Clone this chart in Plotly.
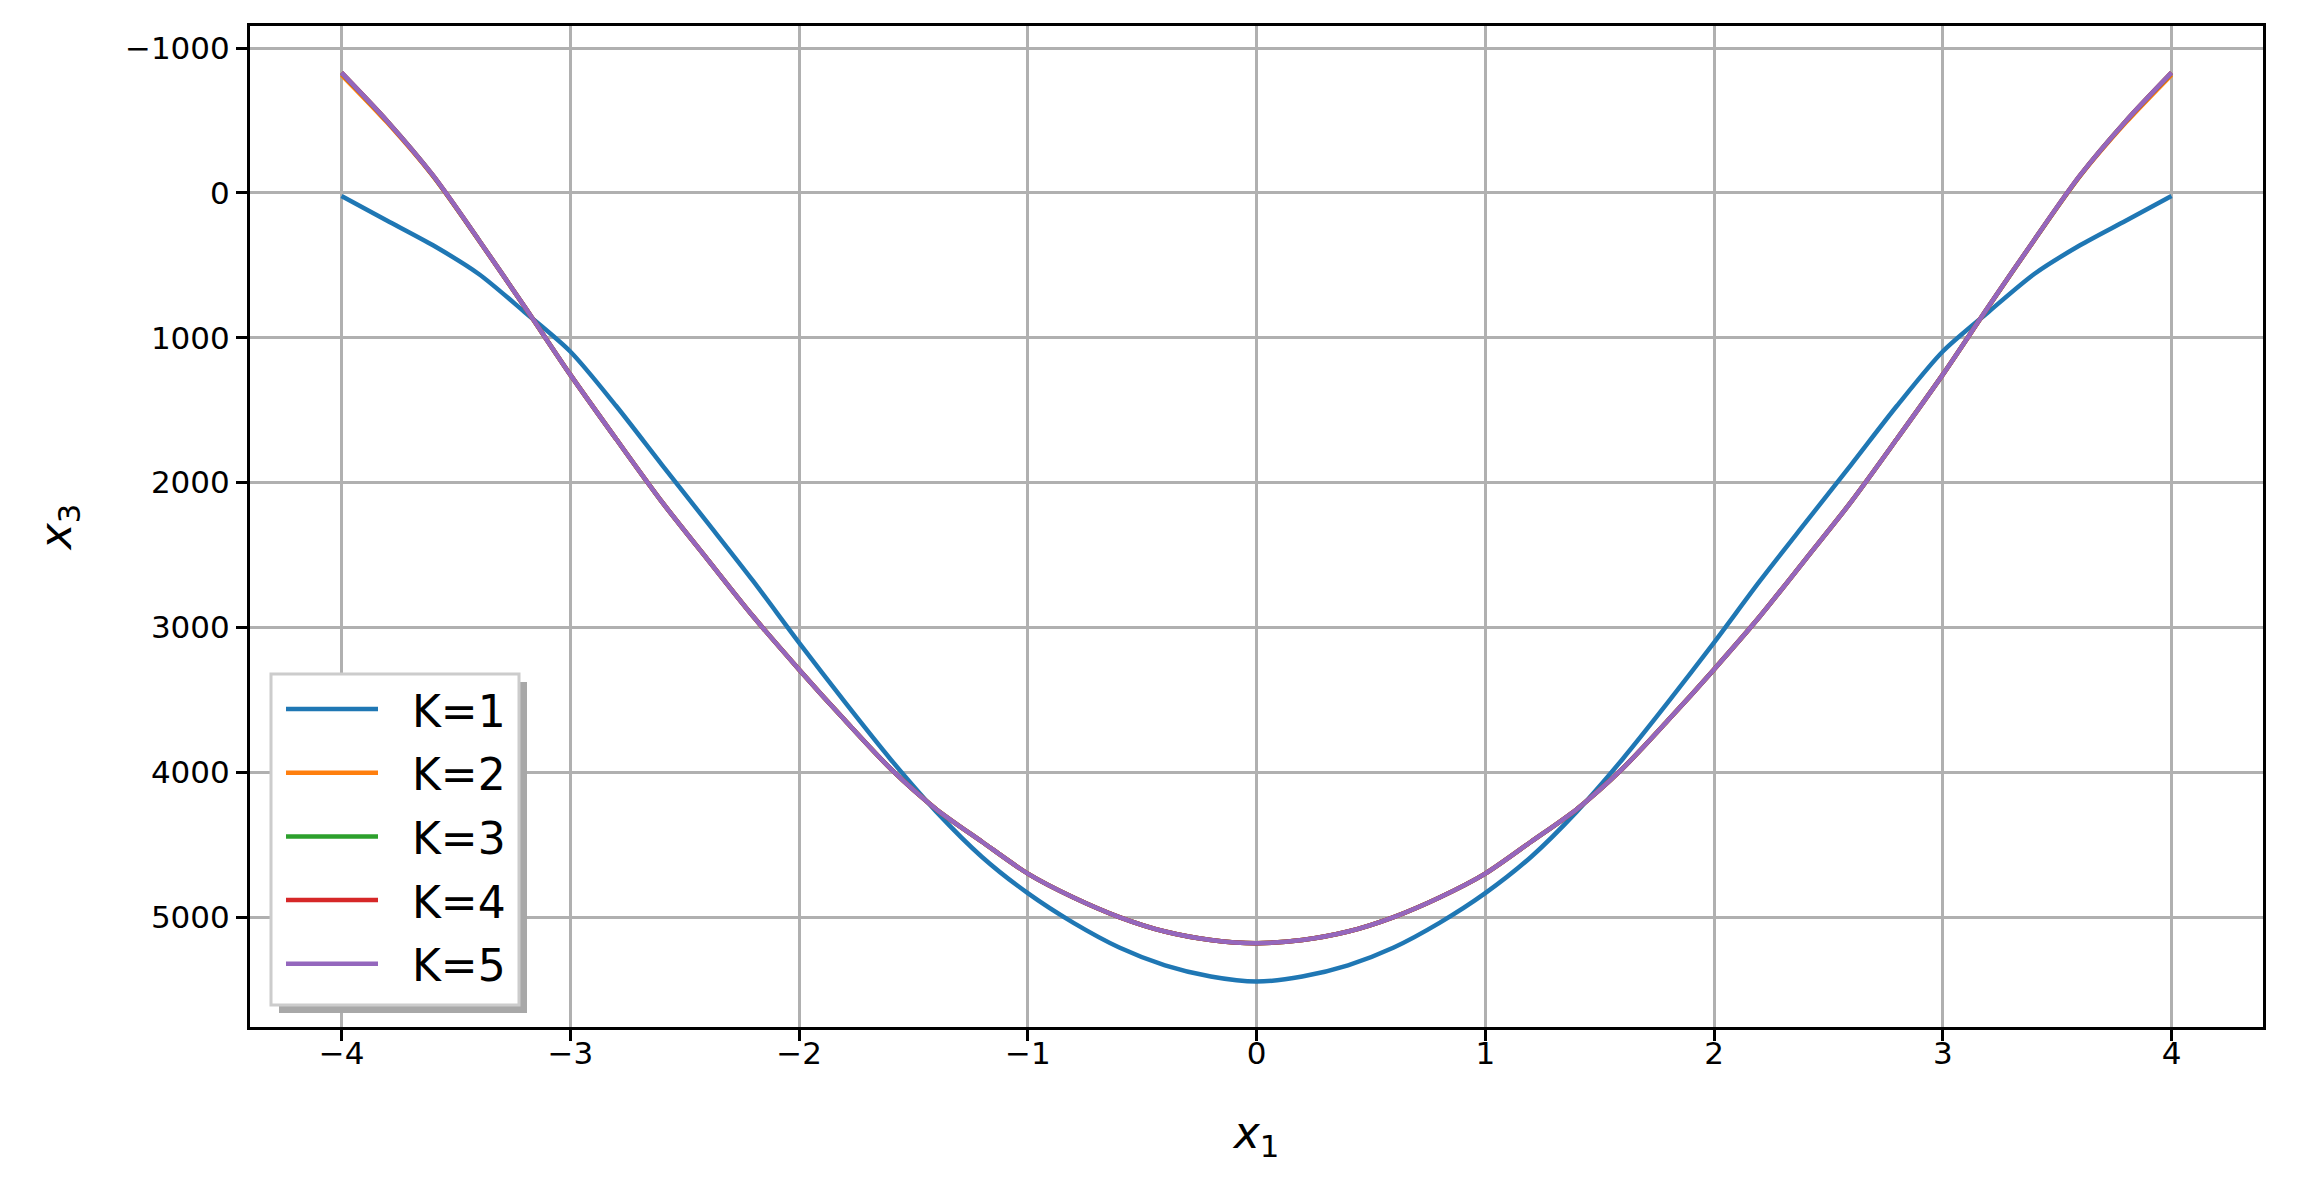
import plotly.graph_objects as go

# x1 sample positions
x1 = [-4.0, -3.8, -3.6, -3.4, -3.2, -3.0, -2.8, -2.6, -2.4, -2.2, -2.0,
      -1.8, -1.6, -1.4, -1.2, -1.0, -0.8, -0.6, -0.4, -0.2, 0.0,
      0.2, 0.4, 0.6, 0.8, 1.0, 1.2, 1.4, 1.6, 1.8, 2.0,
      2.2, 2.4, 2.6, 2.8, 3.0, 3.2, 3.4, 3.6, 3.8, 4.0]

k1 = [22, 192, 362, 560, 822, 1095, 1470, 1876, 2277, 2681, 3105,
      3515, 3910, 4272, 4585, 4835, 5040, 5210, 5333, 5410, 5445,
      5410, 5333, 5210, 5040, 4835, 4585, 4272, 3910, 3515, 3105,
      2681, 2277, 1876, 1470, 1095, 822, 560, 362, 192, 22]

k2 = [-815, -485, -115, 327, 786, 1255, 1698, 2132, 2530, 2925, 3290,
      3640, 3975, 4255, 4480, 4700, 4865, 5000, 5100, 5158, 5180,
      5158, 5100, 5000, 4865, 4700, 4480, 4255, 3975, 3640, 3290,
      2925, 2530, 2132, 1698, 1255, 786, 327, -115, -485, -815]

k3 = [-828, -494, -119, 325, 785, 1255, 1698, 2132, 2530, 2925, 3290,
      3640, 3975, 4255, 4480, 4700, 4865, 5000, 5100, 5158, 5180,
      5158, 5100, 5000, 4865, 4700, 4480, 4255, 3975, 3640, 3290,
      2925, 2530, 2132, 1698, 1255, 785, 325, -119, -494, -828]

k4 = [-830, -495, -120, 325, 785, 1255, 1698, 2132, 2530, 2925, 3290,
      3640, 3975, 4255, 4480, 4700, 4865, 5000, 5100, 5158, 5180,
      5158, 5100, 5000, 4865, 4700, 4480, 4255, 3975, 3640, 3290,
      2925, 2530, 2132, 1698, 1255, 785, 325, -120, -495, -830]

k5 = [-830, -495, -120, 325, 785, 1255, 1698, 2132, 2530, 2925, 3290,
      3640, 3975, 4255, 4480, 4700, 4865, 5000, 5100, 5158, 5180,
      5158, 5100, 5000, 4865, 4700, 4480, 4255, 3975, 3640, 3290,
      2925, 2530, 2132, 1698, 1255, 785, 325, -120, -495, -830]

names = ["K=1", "K=2", "K=3", "K=4", "K=5"]
series = [k1, k2, k3, k4, k5]
colors = ["#1f77b4", "#ff7f0e", "#2ca02c", "#d62728", "#9467bd"]

# plot area in page pixels (page body has an 8px margin)
W, H = 2299, 1180
PL, PR, PT, PB = 250, 2263, 26, 1027


def px(x):
    return (x - PL) / (PR - PL)


def py(y):
    return (PB - y) / (PB - PT)


fig = go.Figure()
for name, ys, c in zip(names, series, colors):
    fig.add_trace(go.Scatter(x=x1, y=ys, name=name, mode="lines",
                             showlegend=False,
                             line=dict(color=c, width=4.5, shape="spline",
                                       smoothing=0.8)))

axis_style = dict(showline=True, linecolor="black", linewidth=3, mirror=True,
                  ticks="outside", ticklen=11, tickwidth=3, tickcolor="black",
                  showgrid=True, gridcolor="#b0b0b0", gridwidth=2.6,
                  zeroline=False, tickfont=dict(size=31, color="black"))

fig.update_xaxes(range=[-4.4, 4.4], tickmode="linear", tick0=-4, dtick=1,
                 ticklabelstandoff=-14,
                 title=dict(text="<i>x</i><sub>1</sub>",
                            font=dict(size=44, color="black"), standoff=47),
                 **axis_style)
fig.update_yaxes(range=[5759, -1152], tickmode="linear", tick0=-1000,
                 dtick=1000,
                 title=dict(text="<i>x</i><sub>3</sub>",
                            font=dict(size=44, color="black"), standoff=40),
                 **axis_style)

# legend box drawn by hand (matplotlib style: shadow, long line samples)
shapes = [
    dict(type="rect", xref="paper", yref="paper", layer="above",
         x0=px(279), x1=px(527), y0=py(1013), y1=py(682),
         fillcolor="#a8a8a8", line=dict(width=0)),
    dict(type="rect", xref="paper", yref="paper", layer="above",
         x0=px(271), x1=px(519), y0=py(1005), y1=py(674),
         fillcolor="white", line=dict(color="#cccccc", width=3)),
]
annotations = []
row0, row_gap = 709, 63.7
for i, (name, c) in enumerate(zip(names, colors)):
    yrow = row0 + i * row_gap
    shapes.append(dict(type="line", xref="paper", yref="paper", layer="above",
                       x0=px(286), x1=px(378), y0=py(yrow), y1=py(yrow),
                       line=dict(color=c, width=4.5)))
    annotations.append(dict(text=name, xref="paper", yref="paper",
                            x=px(410), y=py(yrow + 2), xanchor="left",
                            yanchor="middle", showarrow=False,
                            font=dict(size=44, color="black")))

fig.update_layout(
    width=W, height=H,
    margin=dict(l=PL - 8, r=W - PR + 8, t=PT - 8, b=H - PB + 8),
    plot_bgcolor="white", paper_bgcolor="white",
    font=dict(family="DejaVu Sans", color="black"),
    showlegend=False,
    shapes=shapes, annotations=annotations,
)

fig.write_html("out.html")
